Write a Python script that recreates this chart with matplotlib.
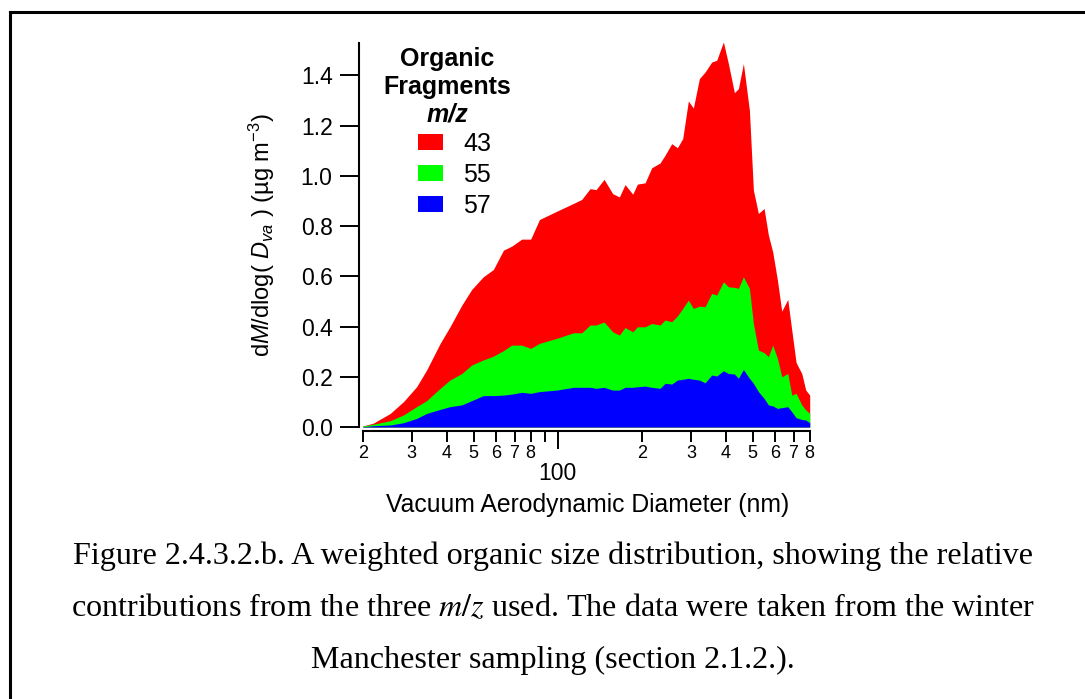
import matplotlib
matplotlib.use("Agg")
import matplotlib.pyplot as plt
from matplotlib.lines import Line2D
from matplotlib.patches import Patch
from matplotlib.ticker import FixedLocator, FixedFormatter

# diametro aerodinamico de vacio (nm)
diametro = [20.0, 21.8, 25.1, 28.0, 31.2, 33.9, 37.9, 41.1, 45.3, 49.2,
            54.1, 58.8, 63.9, 68.4, 74.3, 80.0, 86.0, 99.2, 113.8, 121.9,
            130.6, 137.2, 146.6, 157.4, 166.3, 174.3, 185.7, 193.0, 205.6, 217.2,
            232.7, 242.5, 256.2, 268.5, 280.5, 293.9, 306.3, 321.9, 337.3, 356.4,
            371.4, 392.4, 408.9, 429.7, 444.2, 462.9, 486.4, 502.7, 523.9, 549.0,
            568.9, 589.6, 612.9, 635.3, 667.5, 689.9, 715.0, 749.2, 774.4, 800.0]

# borde superior de cada capa apilada (ug m-3)
tope_43 = [0.004, 0.015, 0.054, 0.101, 0.160, 0.227, 0.333, 0.399, 0.485, 0.548,
           0.598, 0.627, 0.704, 0.720, 0.748, 0.748, 0.826, 0.859, 0.890, 0.906,
           0.949, 0.945, 0.986, 0.929, 0.916, 0.965, 0.927, 0.967, 0.972, 1.032,
           1.051, 1.082, 1.128, 1.112, 1.148, 1.298, 1.270, 1.387, 1.413, 1.453,
           1.460, 1.533, 1.447, 1.331, 1.347, 1.447, 1.261, 0.943, 0.850, 0.870,
           0.764, 0.697, 0.585, 0.461, 0.508, 0.386, 0.257, 0.213, 0.147, 0.127]

tope_55 = [0.004, 0.011, 0.025, 0.048, 0.081, 0.105, 0.154, 0.187, 0.213, 0.247,
           0.267, 0.282, 0.304, 0.326, 0.326, 0.313, 0.333, 0.353, 0.375, 0.375,
           0.406, 0.406, 0.418, 0.379, 0.366, 0.396, 0.379, 0.399, 0.399, 0.412,
           0.406, 0.426, 0.419, 0.442, 0.472, 0.505, 0.472, 0.481, 0.479, 0.532,
           0.525, 0.578, 0.558, 0.556, 0.552, 0.598, 0.552, 0.412, 0.306, 0.296,
           0.280, 0.326, 0.273, 0.200, 0.213, 0.127, 0.134, 0.088, 0.068, 0.054]

tope_57 = [0.001, 0.005, 0.008, 0.017, 0.034, 0.054, 0.070, 0.081, 0.088, 0.105,
           0.125, 0.125, 0.127, 0.131, 0.138, 0.134, 0.141, 0.147, 0.158, 0.158,
           0.158, 0.154, 0.158, 0.147, 0.147, 0.158, 0.158, 0.160, 0.163, 0.158,
           0.154, 0.174, 0.171, 0.187, 0.190, 0.194, 0.190, 0.187, 0.176, 0.207,
           0.203, 0.224, 0.213, 0.211, 0.194, 0.229, 0.194, 0.174, 0.141, 0.114,
           0.088, 0.084, 0.074, 0.077, 0.081, 0.061, 0.037, 0.030, 0.028, 0.017]

etiquetas_mz = ['43', '55', '57']
colores = ['#ff0000', '#00ff00', '#0000ff']

ticks_menores = [20, 30, 40, 50, 60, 70, 80, 90, 200, 300, 400, 500, 600, 700, 800]
etiquetas_menores = ['2', '3', '4', '5', '6', '7', '8', '',
                     '2', '3', '4', '5', '6', '7', '8']

leyenda_titulo = ['Organic', 'Fragments']

texto_figura = [
    'Figure 2.4.3.2.b. A weighted organic size distribution, showing the relative',
    r'contributions from the three $\mathit{m/z}$ used. The data were taken from the winter',
    'Manchester sampling (section 2.1.2.).',
]

plt.rcParams['font.family'] = ['Liberation Sans', 'DejaVu Sans']
plt.rcParams['mathtext.fontset'] = 'custom'
plt.rcParams['mathtext.rm'] = 'Liberation Sans'
plt.rcParams['mathtext.it'] = 'Liberation Sans:italic'

W, H = 1085, 699
fig = plt.figure(figsize=(W / 100, H / 100), dpi=100)

# ejes en pixeles de la figura
izq, der, arriba, abajo = 362.7, 809.7, 42.7, 427.0
ax = fig.add_axes([izq / W, 1 - abajo / H, (der - izq) / W, (abajo - arriba) / H])

for tope, color in zip([tope_43, tope_55, tope_57], colores):
    ax.fill_between(diametro, 0, tope, color=color, linewidth=0)

ax.set_xscale('log')
ax.set_xlim(20, 800)
ax.set_ylim(0, 1.53)

for lado in ['top', 'right']:
    ax.spines[lado].set_visible(False)
ax.spines['left'].set_position(('outward', 2.7))
ax.spines['bottom'].set_position(('outward', 2.9))
ax.spines['left'].set_linewidth(1.5)
ax.spines['bottom'].set_linewidth(1.5)

ax.set_yticks([0.0, 0.2, 0.4, 0.6, 0.8, 1.0, 1.2, 1.4])
ax.set_yticklabels(['0.0', '0.2', '0.4', '0.6', '0.8', '1.0', '1.2', '1.4'])
ax.tick_params(axis='y', which='major', length=14, width=1.4, pad=5, labelsize=16.5)

ax.xaxis.set_major_locator(FixedLocator([100]))
ax.xaxis.set_major_formatter(FixedFormatter(['100']))
ax.xaxis.set_minor_locator(FixedLocator(ticks_menores))
ax.xaxis.set_minor_formatter(FixedFormatter(etiquetas_menores))
ax.tick_params(axis='x', which='major', length=13, width=1.4, pad=9.5, labelsize=16.5)
ax.tick_params(axis='x', which='minor', length=8, width=1.4, pad=2, labelsize=13)

fig.text(588 / W, 1 - 505 / H, 'Vacuum Aerodynamic Diameter (nm)',
         ha='center', va='center', fontsize=17.8)
fig.text(262 / W, 1 - 235 / H,
         r'd$\mathit{M}$/dlog( $\mathit{D}_{\mathit{va}}$ ) (µg m$^{-3}$)',
         ha='center', va='center', rotation=90, fontsize=17)

# leyenda
fig.text(447 / W, 1 - 59 / H, leyenda_titulo[0], ha='center', va='center',
         fontsize=18, fontweight='bold')
fig.text(447 / W, 1 - 87 / H, leyenda_titulo[1], ha='center', va='center',
         fontsize=18, fontweight='bold')
fig.text(447 / W, 1 - 115 / H, 'm/z', ha='center', va='center',
         fontsize=18, fontweight='bold', fontstyle='italic')

manejadores = [Patch(facecolor=c, edgecolor='none') for c in colores]
fig.legend(manejadores, etiquetas_mz, loc='upper left',
           bbox_to_anchor=(418 / W, 1 - 132 / H), frameon=False, fontsize=18,
           borderpad=0, borderaxespad=0, handlelength=1.0, handleheight=0.6,
           handletextpad=0.8, labelspacing=0.28)

# pie de figura
for i, linea in enumerate(texto_figura):
    fig.text(553 / W, 1 - (556 + 52 * i) / H, linea, ha='center', va='center',
             family='Liberation Serif', fontsize=23.1, math_fontfamily='stix')

# marco de la pagina
fig.add_artist(Line2D([10 / W, 1], [1 - 12 / H, 1 - 12 / H], color='black', linewidth=2.2))
fig.add_artist(Line2D([10 / W, 10 / W], [0, 1 - 12 / H], color='black', linewidth=2.2))

fig.savefig('out.png', dpi=100)
